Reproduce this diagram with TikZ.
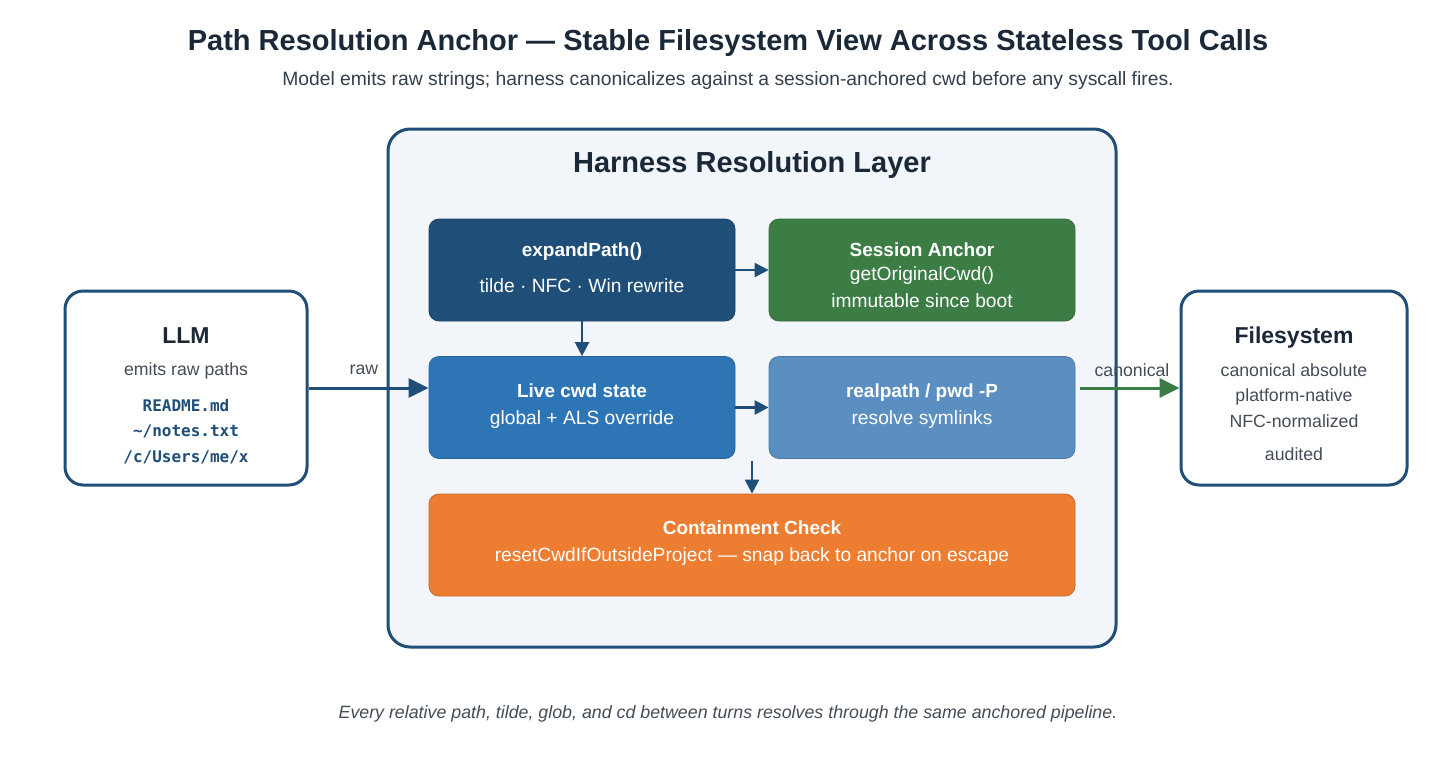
\documentclass[tikz,border=0pt]{standalone}
\usepackage{fontspec}
\setmainfont{Liberation Sans}
\newfontfamily\monofnt{DejaVu Sans Mono}
\usetikzlibrary{arrows.meta}
\definecolor{navy}{HTML}{1F4E79}
\definecolor{grn}{HTML}{3B7D44}
\definecolor{midblue}{HTML}{2E75B6}
\definecolor{lightblue}{HTML}{5B8EC1}
\definecolor{orng}{HTML}{ED7D31}
\definecolor{panel}{HTML}{F2F6FB}
\definecolor{titlec}{HTML}{1B2838}
\definecolor{subc}{HTML}{333F4D}
\definecolor{grayc}{HTML}{444C57}
\tikzset{
  stagebox/.style={rectangle, rounded corners=10pt, minimum width=306pt, minimum height=102pt, draw=#1!85!black, line width=0.8pt, fill=#1},
  endbox/.style={rectangle, rounded corners=18pt, draw=navy, line width=3pt, fill=white},
  wtitle/.style={text=white, font=\bfseries\fontsize{19}{22}\selectfont},
  wtext/.style={text=white, font=\fontsize{19.2}{22}\selectfont},
  gtext/.style={text=grayc, font=\fontsize{17.7}{20}\selectfont},
  btitle/.style={text=titlec, font=\bfseries\fontsize{23}{26}\selectfont},
  mtext/.style={text=navy, font=\monofnt\bfseries\fontsize{16}{20}\selectfont},
  bigarrow/.style={line width=3pt, -{Triangle[length=20pt,width=19pt]}},
  smallarrow/.style={line width=2.5pt, draw=navy, -{Triangle[length=14pt,width=14pt]}, navy},
}
\begin{document}
\begin{tikzpicture}[x=1pt,y=-1pt]
\path[use as bounding box, fill=white] (0,0) rectangle (1456,777);

% title
\node[text=titlec, font=\bfseries\fontsize{29}{33}\selectfont] (title) at (728,43) {Path Resolution Anchor — Stable Filesystem View Across Stateless Tool Calls};
\node[text=subc, font=\fontsize{19.3}{22}\selectfont] (subtitle) at (728,81) {Model emits raw strings; harness canonicalizes against a session-anchored cwd before any syscall fires.};

% container
\node[rectangle, rounded corners=22pt, draw=navy, line width=3pt, fill=panel, minimum width=728pt, minimum height=518pt] (layer) at (752,388) {};
\node[text=titlec, font=\bfseries\fontsize{29}{33}\selectfont] (layertitle) at (752,165) {Harness Resolution Layer};

% stage boxes
\node[stagebox=navy] (expand) at (582,270) {};
\node[stagebox=grn] (anchor) at (922,270) {};
\node[stagebox=midblue] (live) at (582,407.5) {};
\node[stagebox=lightblue] (real) at (922,407.5) {};
\node[stagebox=orng, minimum width=646pt] (contain) at (752,545) {};

\node[wtitle] (t1) at (582,252) {expandPath()};
\node[wtext] (s1) at (582,286) {tilde · NFC · Win rewrite};
\node[wtitle] (t2) at (922,250) {Session Anchor};
\node[wtext] (s2a) at (922,276) {getOriginalCwd()};
\node[wtext] (s2b) at (922,301) {immutable since boot};
\node[wtitle] (t3) at (582,391) {Live cwd state};
\node[wtext] (s3) at (582,420) {global + ALS override};
\node[wtitle] (t4) at (922,393) {realpath / pwd -P};
\node[wtext] (s4) at (922,420) {resolve symlinks};
\node[wtitle] (t5) at (752,528) {Containment Check};
\node[wtext] (s5) at (752,557) {resetCwdIfOutsideProject — snap back to anchor on escape};

% end boxes
\node[endbox, minimum width=242pt, minimum height=194pt] (llm) at (186,388) {};
\node[btitle] (llmt) at (186,336) {LLM};
\node[gtext] (llms) at (186,371) {emits raw paths};
\node[mtext] (m1) at (186,406) {README.md};
\node[mtext] (m2) at (186,431) {\char`~/notes.txt};
\node[mtext] (m3) at (186,457) {/c/Users/me/x};

\node[endbox, minimum width=226pt, minimum height=194pt] (fs) at (1294,388) {};
\node[btitle] (fst) at (1294,338) {Filesystem};
\node[gtext] (f1) at (1294,370) {canonical absolute};
\node[gtext] (f2) at (1294,397) {platform-native};
\node[gtext] (f3) at (1294,421) {NFC-normalized};
\node[gtext] (f4) at (1294,454) {audited};

% connectors
\draw[bigarrow, draw=navy, fill=navy] (llm.east) -- (llm.east -| live.west);
\node[gtext] (rawl) at (364,370) {raw};
\draw[bigarrow, draw=grn, fill=grn, shorten <=5pt] (fs.west -| real.east) -- (fs.west);
\node[gtext] (canl) at (1132,370) {canonical};

\draw[smallarrow] (expand.east) -- (anchor.west);
\draw[smallarrow] (expand.south) -- (live.north);
\draw[smallarrow] (live.east) -- (real.west);
\coordinate (mid) at (752,461);
\draw[smallarrow] (mid) -- (contain.north);

% footer
\node[text=grayc, font=\itshape\fontsize{17.8}{20}\selectfont] (foot) at (728,714) {Every relative path, tilde, glob, and cd between turns resolves through the same anchored pipeline.};
\end{tikzpicture}
\end{document}
